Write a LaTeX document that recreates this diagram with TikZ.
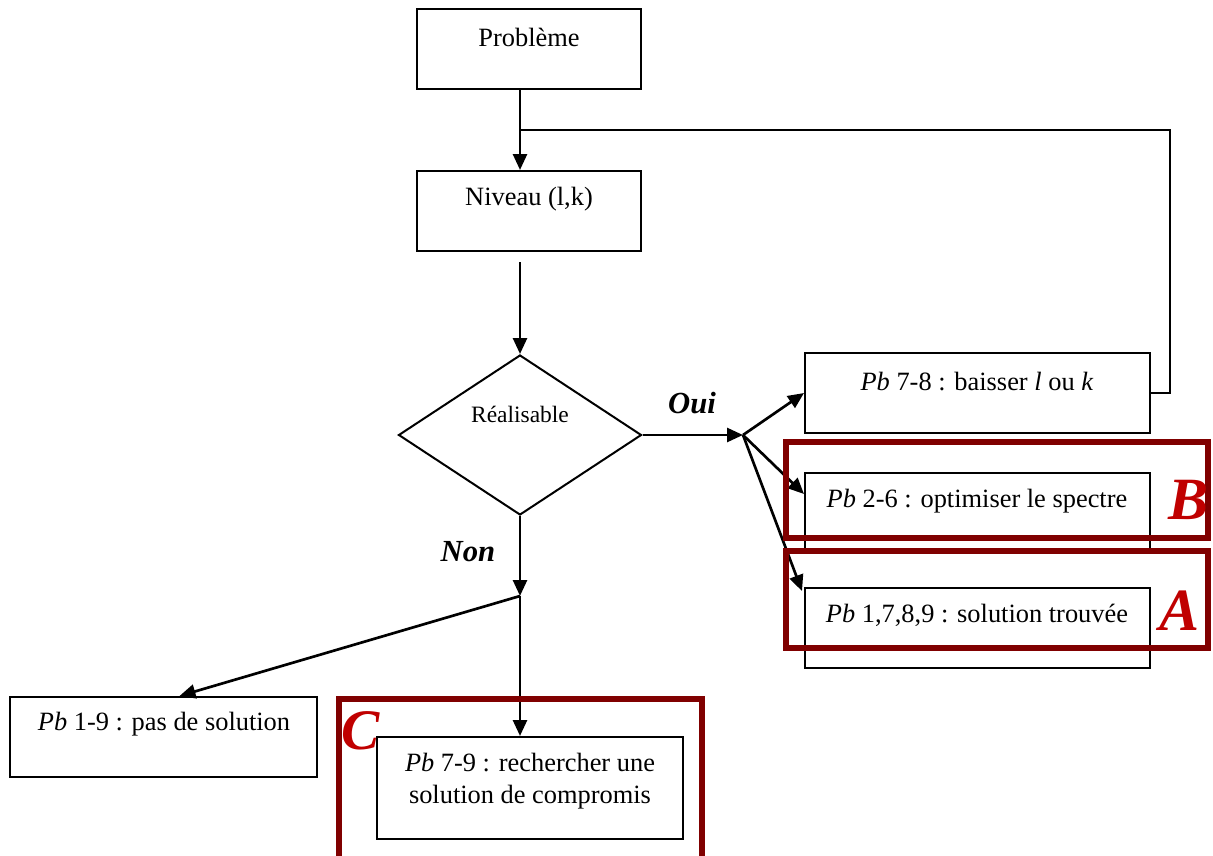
\documentclass[tikz,border=0pt]{standalone}
\usepackage{fontspec}
\setmainfont{Liberation Serif}
\usetikzlibrary{shapes.geometric,arrows.meta}
\definecolor{framered}{HTML}{800000}
\definecolor{letterred}{HTML}{C00000}
\begin{document}
\begin{tikzpicture}[x=0.75pt,y=-0.75pt,
  box/.style={draw,line width=1.5pt,inner sep=0,minimum height=60pt},
  txt/.style={font=\fontsize{19.8}{24}\selectfont,inner sep=0,align=center},
  arr/.style={-{Triangle[length=12pt,width=10.5pt]},line width=2pt},
  thinline/.style={line width=1.5pt},
  redframe/.style={draw=framered,line width=3.8pt,inner sep=0},
  bigletter/.style={text=letterred,inner sep=0,font=\fontsize{45}{50}\selectfont\bfseries\itshape},
  yesno/.style={inner sep=0,font=\fontsize{23}{26}\selectfont\bfseries\itshape}]
\useasboundingbox (0,0) rectangle (1213,856);
% boxes
\node[box,minimum width=168pt] (prob) at (529,49) {};
\node[box,minimum width=168pt] (niv) at (529,211) {};
\node[draw,diamond,line width=1.5pt,inner sep=0,minimum width=182.25pt,minimum height=120pt] (dia) at (520,435) {};
\node[box,minimum width=258.75pt] (b78) at (977.5,393) {};
\node[box,minimum width=258.75pt] (b26) at (977.5,513) {};
\node[box,minimum width=258.75pt] (b1789) at (977.5,628) {};
\node[box,minimum width=230.25pt] (b19) at (163.5,737) {};
\node[box,minimum width=229.5pt,minimum height=76.5pt] (b79) at (530,788) {};
% texts
\node[txt] (tprob) at (529,37) {Problème};
\node[txt] (tniv) at (529,199) {Niveau (l,k)};
\node[txt,font=\fontsize{17.6}{20}\selectfont] (tdia) at (520,414) {Réalisable};
\node[txt] (t78) at (977,382) {\textit{Pb} 7-8 : baisser \textit{l} ou \textit{k}};
\node[txt] (t26) at (977,501) {\textit{Pb} 2-6 : optimiser le spectre};
\node[txt] (t1789) at (977,615) {\textit{Pb} 1,7,8,9 : solution trouvée};
\node[txt] (t19) at (164,724) {\textit{Pb} 1-9 : pas de solution};
\node[txt] (t79) at (530,781) {\textit{Pb} 7-9 : rechercher une\\solution de compromis};
\node[yesno] (oui) at (692,403) {Oui};
\node[yesno] (non) at (468,552) {Non};
% connectors
\coordinate (j1) at (520,130);
\coordinate (lb) at (1170,393);
\coordinate (nstart) at (520,262);
\coordinate (jo) at (743,435);
\coordinate (jn) at (520,596);
\draw[arr] (prob.south -| j1) -- (niv.north -| j1);
\draw[thinline] (j1) -| (lb) -- (lb -| b78.east);
\draw[arr] (nstart) -- (dia.north);
\draw[arr] (dia.east) -- (jo);
\draw[arr] (jo) -- (b78.west);
\draw[arr] (jo) -- ([yshift=14.25pt]b26.west);
\draw[arr] (jo) -- ([yshift=-3pt,xshift=-1.5pt]b1789.north west);
\draw[arr] (dia.south) -- (jn);
\draw[arr] (jn) -- ([xshift=12pt]b19.north);
\draw[arr] (jn) -- (b79.north -| jn);
% red frames
\node[redframe,minimum width=316.5pt,minimum height=72pt] (rfB) at (997,490) {};
\node[redframe,minimum width=316.5pt,minimum height=72.75pt] (rfA) at (997,599.5) {};
\coordinate (c1) at (339,860);
\coordinate (c2) at (339,699);
\coordinate (c3) at (702,699);
\coordinate (c4) at (702,860);
\draw[draw=framered,line width=3.8pt] (c1) -- (c2) -- (c3) -- (c4);
\node[bigletter] (lB) at (1188,500) {B};
\node[bigletter] (lA) at (1179,611) {A};
\node[bigletter,font=\fontsize{43}{48}\selectfont\bfseries\itshape] (lC) at (361,731) {C};
\end{tikzpicture}
\end{document}
